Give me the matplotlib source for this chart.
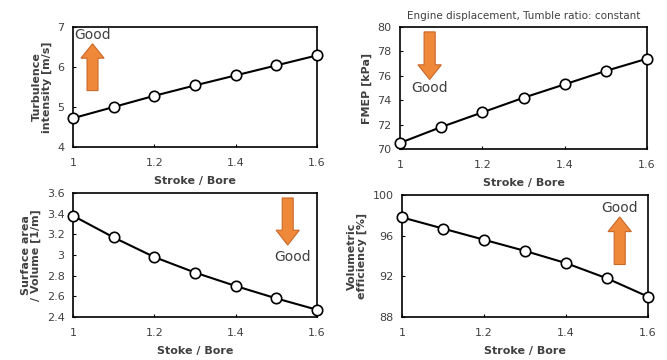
import matplotlib.pyplot as plt
from matplotlib.patches import FancyArrow

stroke_bore = [1.0, 1.1, 1.2, 1.3, 1.4, 1.5, 1.6]
turbulence = [4.72, 5.0, 5.28, 5.54, 5.79, 6.04, 6.29]
fmep = [70.5, 71.8, 73.0, 74.2, 75.3, 76.4, 77.4]
surf_vol = [3.38, 3.17, 2.98, 2.83, 2.70, 2.58, 2.47]
vol_eff = [97.8, 96.7, 95.6, 94.5, 93.3, 91.8, 90.0]

xticks = [1, 1.2, 1.4, 1.6]
xticklabels = ["1", "1.2", "1.4", "1.6"]

orange = "#f0883a"
edge_orange = "#c8692a"
txt = "#404040"

fig = plt.figure(figsize=(6.67, 3.6), dpi=100)

# axes boxes in pixels (left, top, right, bottom)
boxes = [(73, 27, 317, 147), (400, 27, 647, 149), (73, 193, 317, 317), (402, 195, 648, 317)]
W, H = 667, 360


def make_ax(b):
    l, t, r, bt = b
    return fig.add_axes([l / W, 1 - bt / H, (r - l) / W, (bt - t) / H])


def style(ax, y, ylim, yticks, yticklabels, ylabel, xlabel):
    ax.plot(stroke_bore, y, color="black", lw=1.5, marker="o", ms=7.5,
            mfc="white", mec="black", mew=1.2, clip_on=False, zorder=3)
    ax.set_xlim(1, 1.6)
    ax.set_ylim(*ylim)
    ax.set_xticks(xticks)
    ax.set_xticklabels(xticklabels)
    ax.set_yticks(yticks)
    ax.set_yticklabels(yticklabels)
    ax.tick_params(direction="in", length=2, labelsize=8, labelcolor=txt, pad=6)
    ax.tick_params(axis="x", pad=8)
    for s in ax.spines.values():
        s.set_linewidth(1.2)
    ax.set_ylabel(ylabel, fontsize=8, fontweight="bold", color=txt, labelpad=4, linespacing=1.0)
    ax.set_xlabel(xlabel, fontsize=8, fontweight="bold", color=txt, labelpad=6)


def arrow(ax, x, y0, y1, good_x, good_y):
    ax.add_patch(FancyArrow(x, y0, 0, y1 - y0, width=0.045, head_width=0.095,
                            head_length=0.12, length_includes_head=True,
                            transform=ax.transAxes, fc=orange, ec=edge_orange, lw=0.8, zorder=2))
    ax.text(good_x, good_y, "Good", transform=ax.transAxes, fontsize=10,
            color=txt, ha="center", va="center")


ax1 = make_ax(boxes[0])
style(ax1, turbulence, (4, 7), [4, 5, 6, 7], ["4", "5", "6", "7"],
      "Turbulence\nintensity [m/s]", "Stroke / Bore")
arrow(ax1, 0.08, 0.47, 0.86, 0.08, 0.93)

ax2 = make_ax(boxes[1])
style(ax2, fmep, (70, 80), [70, 72, 74, 76, 78, 80], ["70", "72", "74", "76", "78", "80"],
      "FMEP [kPa]", "Stroke / Bore")
arrow(ax2, 0.12, 0.96, 0.57, 0.12, 0.50)
ax2.set_title("Engine displacement, Tumble ratio: constant", fontsize=7.5, color=txt, pad=6)

ax3 = make_ax(boxes[2])
style(ax3, surf_vol, (2.4, 3.6), [2.4, 2.6, 2.8, 3.0, 3.2, 3.4, 3.6],
      ["2.4", "2.6", "2.8", "3", "3.2", "3.4", "3.6"],
      "Surface area\n/ Volume [1/m]", "Stoke / Bore")
arrow(ax3, 0.88, 0.96, 0.58, 0.90, 0.48)

ax4 = make_ax(boxes[3])
style(ax4, vol_eff, (88, 100), [88, 92, 96, 100], ["88", "92", "96", "100"],
      "Volumetric\nefficiency [%]", "Stroke / Bore")
arrow(ax4, 0.885, 0.43, 0.82, 0.885, 0.89)

fig.savefig("out.png", dpi=100)
